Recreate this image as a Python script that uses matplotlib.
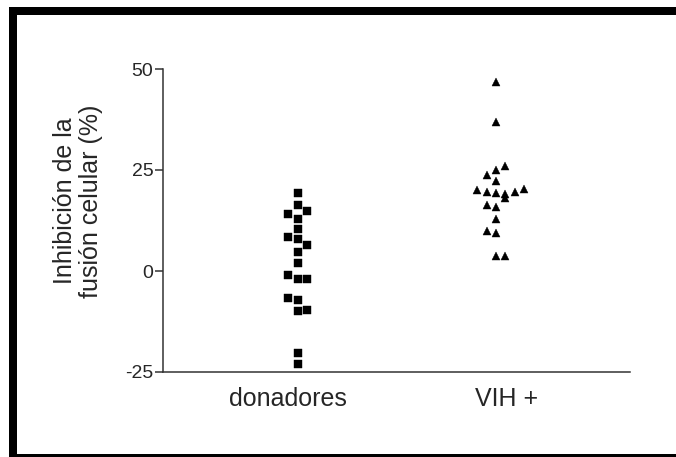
import matplotlib
matplotlib.use("Agg")
import matplotlib.pyplot as plt
import matplotlib.transforms as mtransforms
from matplotlib.patches import Rectangle

# ---- data ----
categories = ["donadores", "VIH +"]
donadores = [19.3, 16.4, 14.1, 14.8, 12.9, 10.4, 8.5, 8.0, 6.5, 4.7,
             2.0, -0.9, -2.1, -2.1, -6.6, -7.3, -9.9, -9.6, -20.2, -23.0]
vih = [46.9, 36.8, 26.0, 25.0, 23.7, 22.3, 20.1, 19.6, 19.3, 19.0,
       18.0, 19.6, 20.4, 16.3, 15.9, 12.8, 9.8, 9.4, 3.8, 3.8]
yticks = [-25, 0, 25, 50]
ylabel = "Inhibición de la\nfusión celular (%)"

# layout (scatter slot of each point in its column)
donadores_slot = [0, 0, -1, 1, 0, 0, -1, 0, 1, 0, 0, -1, 0, 1, -1, 0, 0, 1, 0, 0]
vih_slot = [0, 0, 1, 0, -1, 0, -2, -1, 0, 1, 1, 2, 3, -1, 0, 0, -1, 0, 0, 1]
slot_w = 0.0475

W, H = 676, 457
fig = plt.figure(figsize=(W / 100, H / 100), dpi=100)
fig.patch.set_facecolor("white")
plt.rcParams["font.family"] = ["Liberation Sans", "DejaVu Sans"]

ax = fig.add_axes([163 / W, 85 / H, (630 - 163) / W, (372 - 69) / H])
txt = "#262626"
axc = "#333333"

ax.plot([0 + s * slot_w for s in donadores_slot], donadores, ls="none",
        marker="s", ms=5.3, mfc="black", mec="black", mew=0.3)
ax.plot([1 + s * slot_w for s in vih_slot], vih, ls="none",
        marker="^", ms=5.8, mfc="black", mec="black", mew=0.3)

ax.set_xlim(-0.679, 1.676)
ax.set_ylim(-25, 50)
ax.set_yticks(yticks)
ax.set_yticklabels([str(t) for t in yticks], fontsize=14, color=txt)
ax.set_xticks([0, 1])
ax.set_xticklabels(categories, fontsize=18, color=txt)

for s in ["top", "right"]:
    ax.spines[s].set_visible(False)
for s in ["left", "bottom"]:
    ax.spines[s].set_color(axc)
    ax.spines[s].set_linewidth(1.1)
ax.tick_params(axis="y", length=6, width=1.1, color=axc, pad=1)
ax.tick_params(axis="x", length=0, pad=11)

offsets = [-10, 11]
for lab, dx in zip(ax.get_xticklabels(), offsets):
    lab.set_transform(lab.get_transform() +
                      mtransforms.ScaledTranslation(dx / 100, 0, fig.dpi_scale_trans))

fig.text(78 / W, (H - 201) / H, ylabel, rotation=90, ha="center", va="center",
         multialignment="center", fontsize=18, color=txt, linespacing=1.15)

# frame of the picture
def px_rect(x0, y0_top, x1, y1_top):
    fig.patches.append(Rectangle((x0 / W, 1 - y1_top / H), (x1 - x0) / W,
                                 (y1_top - y0_top) / H, transform=fig.transFigure,
                                 facecolor="black", edgecolor="none", zorder=10))

px_rect(9, 7.3, 17, H)        # left
px_rect(9, 7.3, W, 15.3)      # top
px_rect(9, 454, W, H)         # bottom

fig.savefig("out.png", dpi=100, facecolor="white")
